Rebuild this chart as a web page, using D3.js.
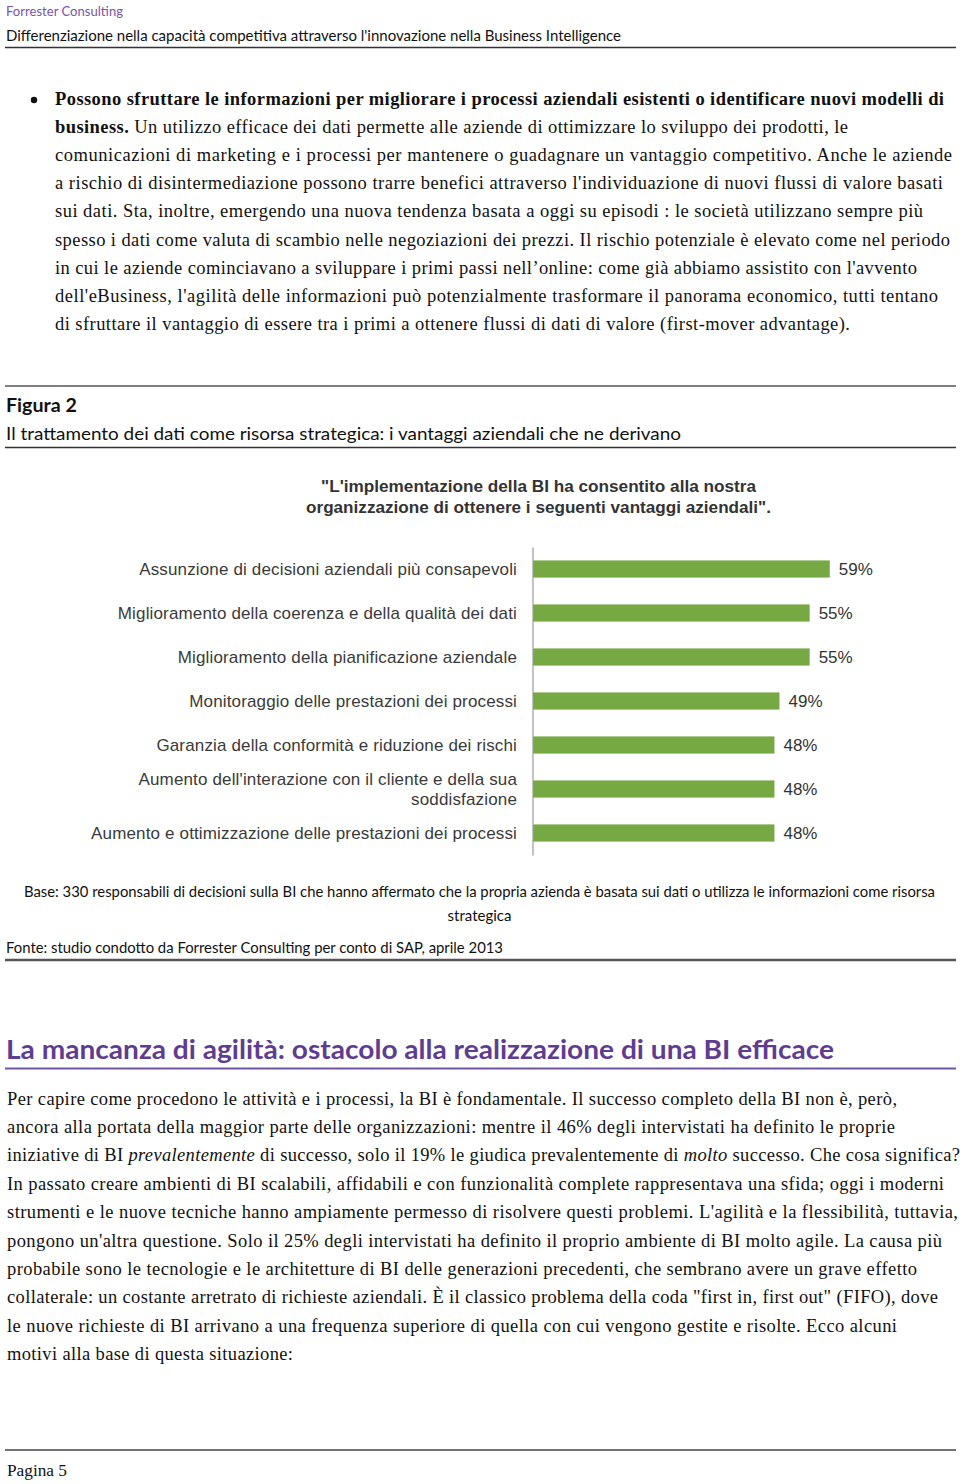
<!DOCTYPE html>
<html>
<head>
<meta charset="utf-8">
<script src="https://cdn.jsdelivr.net/npm/d3@7"></script>
<style>
  html, body { margin: 0; padding: 0; background: #fff; }
  svg { display: block; }
</style>
</head>
<body>
<svg id="page" width="960" height="1484"></svg>
<script>
// ---------------- DATA ----------------
const categories = [
  "Assunzione di decisioni aziendali più consapevoli",
  "Miglioramento della coerenza e della qualità dei dati",
  "Miglioramento della pianificazione aziendale",
  "Monitoraggio delle prestazioni dei processi",
  "Garanzia della conformità e riduzione dei rischi",
  "Aumento dell'interazione con il cliente e della sua soddisfazione",
  "Aumento e ottimizzazione delle prestazioni dei processi"
];
const values = [59, 55, 55, 49, 48, 48, 48];
const valueLabels = ["59%", "55%", "55%", "49%", "48%", "48%", "48%"];
const chartTitle = [
  "\"L'implementazione della BI ha consentito alla nostra",
  "organizzazione di ottenere i seguenti vantaggi aziendali\"."
];
const headerSmall = "Forrester Consulting";
const headerTitle = "Differenziazione nella capacità competitiva attraverso l'innovazione nella Business Intelligence";
const figLabel = "Figura 2";
const figTitle = "Il trattamento dei dati come risorsa strategica: i vantaggi aziendali che ne derivano";
const baseNote = ["Base: 330 responsabili di decisioni sulla BI che hanno affermato che la propria azienda è basata sui dati o utilizza le informazioni come risorsa", "strategica"];
const sourceNote = "Fonte: studio condotto da Forrester Consulting per conto di SAP, aprile 2013";
const sectionHeading = "La mancanza di agilità: ostacolo alla realizzazione di una BI efficace";
const pageLabel = "Pagina 5";

// paragraph lines: arrays of [text, style] runs (b = bold, i = italic, n = normal)
const para1 = [
  [["Possono sfruttare le informazioni per migliorare i processi aziendali esistenti o identificare nuovi modelli di", "b"]],
  [["business.", "b"], [" Un utilizzo efficace dei dati permette alle aziende di ottimizzare lo sviluppo dei prodotti, le", "n"]],
  [["comunicazioni di marketing e i processi per mantenere o guadagnare un vantaggio competitivo. Anche le aziende", "n"]],
  [["a rischio di disintermediazione possono trarre benefici attraverso l'individuazione di nuovi flussi di valore basati", "n"]],
  [["sui dati. Sta, inoltre, emergendo una nuova tendenza basata a oggi su episodi :  le società utilizzano sempre più", "n"]],
  [["spesso i dati come valuta di scambio nelle negoziazioni dei prezzi. Il rischio potenziale è elevato come nel periodo", "n"]],
  [["in cui le aziende cominciavano a sviluppare i primi passi nell’online: come già abbiamo assistito con l'avvento", "n"]],
  [["dell'eBusiness, l'agilità delle informazioni può potenzialmente trasformare il panorama economico, tutti tentano", "n"]],
  [["di sfruttare il vantaggio di essere tra i primi a ottenere flussi di dati di valore (first-mover advantage).", "n"]]
];
const para2 = [
  [["Per capire come procedono le attività e i processi, la BI è fondamentale. Il successo completo della BI non è, però,", "n"]],
  [["ancora alla portata della maggior parte delle organizzazioni: mentre il 46% degli intervistati ha definito le proprie", "n"]],
  [["iniziative di BI ", "n"], ["prevalentemente", "i"], [" di successo, solo il 19% le giudica prevalentemente di ", "n"], ["molto", "i"], [" successo. Che cosa significa?", "n"]],
  [["In passato creare ambienti di BI scalabili, affidabili e con funzionalità complete rappresentava una sfida; oggi i moderni", "n"]],
  [["strumenti e le nuove tecniche hanno ampiamente permesso di risolvere questi problemi. L'agilità e la flessibilità, tuttavia,", "n"]],
  [["pongono un'altra questione. Solo il 25% degli intervistati ha definito il proprio ambiente di BI molto agile. La causa più", "n"]],
  [["probabile sono le tecnologie e le architetture di BI delle generazioni precedenti, che sembrano avere un grave effetto", "n"]],
  [["collaterale: un costante arretrato di richieste aziendali. È il classico problema della coda \"first in, first out\" (FIFO), dove", "n"]],
  [["le nuove richieste di BI arrivano a una frequenza superiore di quella con cui vengono gestite e risolte. Ecco alcuni", "n"]],
  [["motivi alla base di questa situazione:", "n"]]
];

// ---------------- LAYOUT (not data) ----------------
const para1Ends = [944, 848, 952, 943, 923, 950, 917, 938, 850];
const para2Ends = [897, 895, 960, 944, 958, 942, 917, 938, 897, 293];
const SERIF = "'Liberation Serif', 'Times New Roman', serif";
const SANS = "Lato, 'Open Sans', sans-serif";
const ARIAL = "'Liberation Sans', Arial, sans-serif";
const DARKPURPLE = "#5e3d91";

const svg = d3.select("#page");
svg.append("rect").attr("width", 960).attr("height", 1484).attr("fill", "#fff");

function fitText(x, y, str, len, attrs) {
  const t = svg.append("text").attr("x", x).attr("y", y).text(str);
  Object.entries(attrs).forEach(([k, v]) => t.attr(k, v));
  if (len) t.attr("textLength", len).attr("lengthAdjust", "spacingAndGlyphs");
  return t;
}
function hline(y, x1, x2, color, w) {
  svg.append("line").attr("x1", x1).attr("x2", x2).attr("y1", y).attr("y2", y)
    .attr("stroke", color).attr("stroke-width", w);
}

// ---------------- HEADER ----------------
fitText(6, 16, headerSmall, 117, {"font-family": SANS, "font-size": 13, fill: "#7a55a8"});
fitText(6, 41, headerTitle, 615, {"font-family": SANS, "font-size": 15, fill: "#111"});
hline(47.5, 5, 956, "#333", 1.5);

// ---------------- PARAGRAPHS ----------------
function drawPara(lines, ends, x0, y0, lh) {
  lines.forEach((runs, i) => {
    const t = svg.append("text").attr("x", x0).attr("y", y0 + i * lh)
      .attr("font-family", SERIF).attr("font-size", 18.5).attr("fill", "#111");
    runs.forEach(([s, st]) => {
      const ts = t.append("tspan").text(s);
      if (st === "b") ts.attr("font-weight", "bold");
      if (st === "i") ts.attr("font-style", "italic");
    });
    t.attr("textLength", ends[i] - x0).attr("lengthAdjust", "spacing");
  });
}
svg.append("circle").attr("cx", 34).attr("cy", 100).attr("r", 3.2).attr("fill", "#111");
drawPara(para1, para1Ends, 55, 105, 28.1);

// ---------------- FIGURE HEADER ----------------
hline(386, 5, 956, "#555", 1.5);
fitText(6, 412, figLabel, 71, {"font-family": SANS, "font-size": 18, "font-weight": "bold", fill: "#111"});
fitText(6, 440, figTitle, 675, {"font-family": SANS, "font-size": 18, fill: "#111"});
hline(447.5, 5, 956, "#333", 1.5);

const titleWidths = [435, 465];
chartTitle.forEach((s, i) => {
  fitText(538.5, 492 + i * 20.5, s, titleWidths[i], {"font-family": ARIAL, "font-size": 16, "font-weight": "bold", fill: "#333", "text-anchor": "middle"});
});

// ---------------- BAR CHART ----------------
const x = d3.scaleLinear().domain([0, 100]).range([533, 1036]);
const y = d3.scaleBand().domain(categories).range([547, 855]).paddingInner(0.61).paddingOuter(0.305);

const g = svg.append("g");
g.selectAll("rect.bar").data(categories).join("rect")
  .attr("class", "bar")
  .attr("x", x(0))
  .attr("y", d => y(d))
  .attr("width", (d, i) => x(values[i]) - x(0))
  .attr("height", y.bandwidth())
  .attr("fill", "#76a843");

const yAxis = d3.axisLeft(y).tickSize(0).tickFormat("");
const ax = svg.append("g").attr("transform", `translate(${x(0) - 0.5},0)`).call(yAxis);
ax.select(".domain").attr("stroke", "#9a9a9a").attr("stroke-width", 1.2);

const labelMax = 440;
categories.forEach((c, i) => {
  const cy = y(c) + y.bandwidth() / 2;
  const t = svg.append("text").attr("x", 517).attr("text-anchor", "end")
    .attr("font-family", ARIAL).attr("font-size", 17).attr("letter-spacing", 0.15).attr("fill", "#3a3a3a");
  const words = c.split(" ");
  let lines = [], cur = [];
  const probe = t.append("tspan");
  words.forEach(w => {
    probe.text([...cur, w].join(" "));
    if (probe.node().getComputedTextLength() > labelMax && cur.length) {
      lines.push(cur.join(" ")); cur = [w];
    } else cur.push(w);
  });
  lines.push(cur.join(" "));
  probe.remove();
  const lh = 20;
  lines.forEach((ln, k) => {
    t.append("tspan").attr("x", 517)
      .attr("y", cy + 6 + (k - (lines.length - 1) / 2) * lh).text(ln);
  });
});

g.selectAll("text.val").data(categories).join("text")
  .attr("class", "val")
  .attr("x", (d, i) => x(values[i]) + 9)
  .attr("y", d => y(d) + y.bandwidth() / 2 + 6)
  .attr("font-family", ARIAL).attr("font-size", 17).attr("fill", "#333")
  .text((d, i) => valueLabels[i]);

// ---------------- FIGURE FOOTER ----------------
fitText(479.5, 897, baseNote[0], 911, {"font-family": SANS, "font-size": 15, fill: "#111", "text-anchor": "middle"});
fitText(479.5, 921, baseNote[1], null, {"font-family": SANS, "font-size": 15, fill: "#111", "text-anchor": "middle"});
fitText(6, 953, sourceNote, 497, {"font-family": SANS, "font-size": 15, fill: "#111"});
hline(960, 5, 956, "#555", 2.5);

// ---------------- SECTION ----------------
fitText(6, 1059, sectionHeading, 828, {"font-family": SANS, "font-size": 26, "font-weight": "bold", fill: DARKPURPLE});
hline(1068.5, 5, 956, "#6f55a3", 2);
drawPara(para2, para2Ends, 7, 1104.5, 28.4);

// ---------------- PAGE FOOTER ----------------
hline(1450, 5, 956, "#444", 1.5);
fitText(7, 1476, pageLabel, 60, {"font-family": SERIF, "font-size": 17, fill: "#111"});
</script>
</body>
</html>
